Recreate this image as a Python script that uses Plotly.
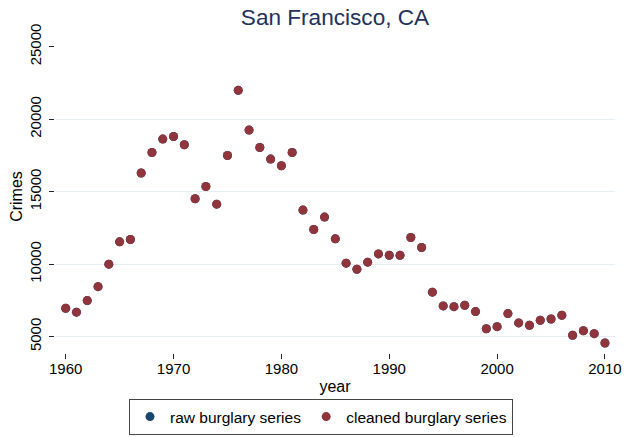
import plotly.graph_objects as go

years = list(range(1960, 2011))
cleaned = [6960, 6690, 7490, 8450, 10000, 11540, 11700, 16290, 17700, 18630,
           18810, 18240, 14510, 15360, 14140, 17500, 21990, 19250, 18050, 17250,
           16790, 17700, 13730, 12390, 13250, 11750, 10070, 9650, 10140, 10710,
           10620, 10610, 11840, 11150, 8070, 7120, 7070, 7170, 6730, 5550,
           5690, 6590, 5950, 5790, 6130, 6220, 6480, 5100, 5410, 5210,
           4560]
raw = list(cleaned)  # raw series coincides with cleaned (hidden underneath)

y_ticks = [5000, 10000, 15000, 20000, 25000]
y_ticktext = ["5000", "10000", "15000", "20000", "25000"]
grid_vals = [5000, 10000, 15000, 20000]
x_ticks = [1960, 1970, 1980, 1990, 2000, 2010]

FONT = "Liberation Sans, Arial, sans-serif"
NAVY = "#1a476f"
MAROON = "#90353b"

fig = go.Figure()
# grid-only overlay axis (no gridline at 25000, as in the reference)
fig.add_trace(go.Scatter(x=[years[0]], y=[cleaned[0]], yaxis="y2", mode="markers",
                         marker=dict(opacity=0), showlegend=False, hoverinfo="skip"))
fig.add_trace(go.Scatter(x=years, y=raw, mode="markers", name="raw burglary series",
                         marker=dict(color=NAVY, size=9)))
fig.add_trace(go.Scatter(x=years, y=cleaned, mode="markers", name="cleaned burglary series",
                         marker=dict(color=MAROON, size=9)))

yr = [3874, 25463]
fig.update_layout(
    width=636, height=437,
    margin=dict(l=55, r=21, t=40, b=84, autoexpand=False),
    paper_bgcolor="white", plot_bgcolor="white",
    font=dict(family=FONT, size=15, color="#000"),
    title=dict(text="San Francisco, CA", x=0.5, xref="paper", xanchor="center",
               y=1 - 17.5 / 437, yanchor="middle", yref="container",
               font=dict(size=22.6, color="#23325a", family=FONT)),
    showlegend=True,
    legend=dict(orientation="h", x=0.475, xanchor="center", y=-0.147, yanchor="top",
                bordercolor="#444", borderwidth=1, font=dict(size=15.5),
                bgcolor="white"),
    xaxis=dict(range=[1959.01, 2010.93], tickvals=x_ticks, ticks="outside",
               ticklen=5, tickcolor="#222", showgrid=False, zeroline=False,
               showline=False, tickfont=dict(size=15), automargin=False,
               ticklabelstandoff=-3,
               title=dict(text="year", font=dict(size=16), standoff=4)),
    yaxis=dict(range=yr, tickvals=y_ticks, ticktext=y_ticktext, ticks="outside",
               ticklen=5, tickcolor="#222", showgrid=False, zeroline=False,
               showline=False, tickangle=-90, tickfont=dict(size=15),
               automargin=False, ticklabelstandoff=2,
               title=dict(text="Crimes", font=dict(size=16), standoff=0)),
    yaxis2=dict(range=yr, overlaying="y", tickvals=grid_vals, showgrid=True,
                gridcolor="#e6eef1", gridwidth=1, showticklabels=False, ticks="",
                zeroline=False, showline=False, side="left", automargin=False,
                layer="below traces"),
)

fig.write_html("out.html", config={"displayModeBar": False},
               post_script="document.body.style.margin='0';")
